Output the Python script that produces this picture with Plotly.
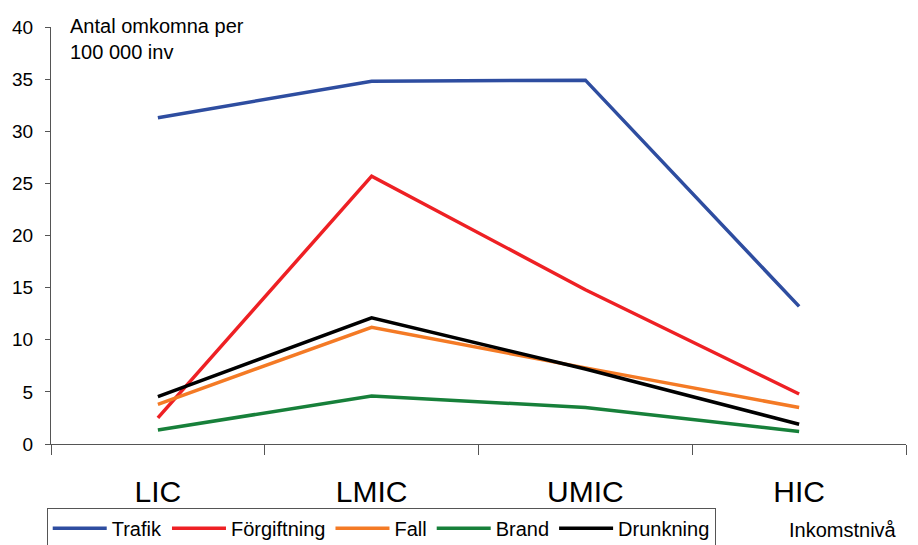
import plotly.graph_objects as go

categories = ["LIC", "LMIC", "UMIC", "HIC"]
trafik = [31.3, 34.8, 34.9, 13.2]
forgiftning = [2.5, 25.7, 14.8, 4.8]
fall = [3.8, 11.2, 7.3, 3.5]
brand = [1.35, 4.6, 3.5, 1.2]
drunkning = [4.55, 12.1, 7.2, 1.9]

series = [
    ("Trafik", trafik, "#2E4DA0"),
    ("Förgiftning", forgiftning, "#EE2024"),
    ("Fall", fall, "#F47A25"),
    ("Brand", brand, "#17803A"),
    ("Drunkning", drunkning, "#000000"),
]

fig = go.Figure()
for name, vals, col in series:
    fig.add_trace(go.Scatter(x=categories, y=vals, name=name, mode="lines",
                             line=dict(color=col, width=3.5)))

# the page body has an 8px default margin, so the figure is sized to fit
fig.update_layout(
    width=910, height=537,
    margin=dict(l=43, r=12, t=19, b=101, autoexpand=False),
    plot_bgcolor="white", paper_bgcolor="white",
    font=dict(family="Liberation Sans, Arial, sans-serif", color="#000000"),
    showlegend=True,
    legend=dict(orientation="h", x=-0.005, y=-0.153, xanchor="left", yanchor="top",
                bordercolor="#555555", borderwidth=1, font=dict(size=20),
                itemwidth=54, tracegroupgap=0),
    xaxis=dict(type="category", range=[-0.5, 3.5], tickson="boundaries",
               ticks="outside", ticklen=10, tickcolor="#555555",
               showline=True, linecolor="#555555", linewidth=1, automargin=False,
               showgrid=False, tickfont=dict(size=30), ticklabelstandoff=21),
    yaxis=dict(range=[0, 40], dtick=5, ticks="outside", ticklen=5, tickcolor="#555555",
               showline=True, linecolor="#555555", linewidth=1, automargin=False,
               showgrid=False, zeroline=False, tickfont=dict(size=19),
               ticklabelstandoff=8),
    annotations=[
        dict(text="Antal omkomna per<br>100 000 inv", xref="paper", yref="paper",
             x=0.02, y=1.034, xanchor="left", yanchor="top", showarrow=False,
             align="left", font=dict(size=20)),
        dict(text="Inkomstnivå", xref="paper", yref="paper",
             x=0.861, y=-0.206, xanchor="left", yanchor="middle", showarrow=False,
             font=dict(size=20)),
    ],
)

fig.write_html("out.html")
